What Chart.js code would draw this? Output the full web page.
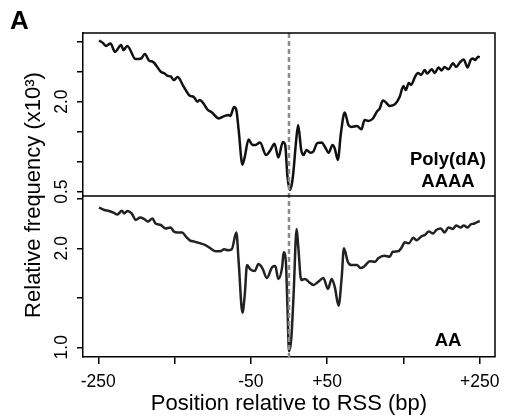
<!DOCTYPE html>
<html>
<head>
<meta charset="utf-8">
<script src="https://cdn.jsdelivr.net/npm/chart.js@4.4.1/dist/chart.umd.min.js"></script>
<style>
html,body{margin:0;padding:0;background:#fff;}
#wrap{position:relative;width:505px;height:419px;}
</style>
</head>
<body>
<div id="wrap"><canvas id="chart"></canvas></div>
<script>
// Poly(dA) / AAAA panel (top)
var topPos = [-249,-244,-240,-234,-228,-220,-217,-212,-201,-194,-189,-183,-179,-168,-163,-159,-155,-151,-146,-138,-130,-125,-120,-117,-112,-107,-101,-92,-85,-79,-77,-72,-69,-66,-61,-58,-53,-48,-44,-38,-30,-24,-19,-14,-8,-5,-2,1,4,6,9,12,16,19,23,28,32,37,43,47,52,57,60,64,68,73,78,82,89,95,99,104,110,115,119,123,126,132,139,145,150,153,157,160,165,169,173,178,181,187,191,196,200,204,209,215,219,225,229,234,238,241,244,248,250];
var topVal = [3.02,2.98,2.93,2.97,2.83,2.945,2.86,2.93,2.71,2.72,2.795,2.68,2.67,2.50,2.47,2.43,2.42,2.36,2.41,2.25,2.10,2.08,2.00,2.03,1.97,1.87,1.82,1.72,1.76,1.78,1.76,1.91,1.86,1.53,0.95,1.08,1.37,1.28,1.28,1.32,1.11,1.20,1.30,1.07,1.33,1.28,0.75,0.53,0.65,0.86,1.3,1.61,1.195,1.11,1.195,1.15,1.17,1.31,1.32,1.25,1.15,1.28,1.22,1.03,1.47,1.82,1.61,1.58,1.595,1.54,1.695,1.68,1.72,1.83,1.89,2.02,2.00,1.93,1.96,2.08,2.26,2.195,2.31,2.28,2.41,2.48,2.445,2.53,2.47,2.54,2.48,2.57,2.52,2.58,2.54,2.64,2.58,2.67,2.705,2.57,2.695,2.72,2.695,2.75,2.74];

// AA panel (bottom)
var botPos = [-249,-242,-236,-230,-225,-219,-216,-212,-206,-201,-195,-190,-185,-179,-175,-168,-162,-155,-151,-146,-140,-135,-130,-124,-116,-109,-103,-96,-90,-85,-80,-75,-69,-66,-61,-58,-55,-51,-45,-40,-35,-29,-22,-18,-14,-9,-7,-4,-2,0,3,6,10,12,16,21,26,32,38,45,51,56,60,65,69,72,77,82,89,94,99,106,113,117,125,132,136,143,147,152,157,163,167,173,179,183,189,193,199,204,209,215,219,225,229,234,238,243,248,250];
var botVal = [2.41,2.387,2.377,2.36,2.34,2.38,2.35,2.377,2.35,2.286,2.31,2.296,2.27,2.30,2.25,2.235,2.20,2.21,2.17,2.16,2.16,2.117,2.08,2.067,2.05,2.03,2.0,1.97,1.97,1.99,1.98,1.99,2.16,1.865,1.35,1.53,1.83,1.79,1.77,1.84,1.80,1.70,1.81,1.82,1.69,1.81,1.96,1.85,1.40,0.96,1.09,1.53,2.195,2.03,1.68,1.69,1.66,1.63,1.66,1.70,1.59,1.69,1.61,1.42,1.70,2.0,1.865,1.83,1.83,1.80,1.82,1.87,1.865,1.90,1.925,1.915,1.965,1.97,2.0,2.06,2.05,2.107,2.08,2.117,2.14,2.17,2.15,2.185,2.20,2.16,2.21,2.195,2.23,2.21,2.23,2.21,2.24,2.25,2.27,2.275];

// tick positions and labels
var xTicks = [-250,-150,-50,50,150,250];
var xTickLabels = ['-250','','-50','+50','','+250'];
var topTicks = [0.5,1.0,1.5,2.0,2.5,3.0];
var topTickLabels = ['0.5','','','2.0','',''];
var botTicks = [1.0,1.5,2.0,2.5];
var botTickLabels = ['1.0','','2.0',''];

var FONT = '"Liberation Sans", Arial, Helvetica, sans-serif';
Chart.defaults.font.family = FONT;
Chart.defaults.color = '#000';

function zip(xs, ys) {
	return xs.map(function(x, i){ return {x: x, y: ys[i]}; });
}

function labelFor(ticks, labels) {
	return function(v) {
		var i = ticks.indexOf(v);
		return i < 0 ? '' : labels[i];
	};
}

function yScale(min, max, ticks, labels, weight) {
	return {
		type: 'linear',
		position: 'left',
		stack: 'panels',
		stackWeight: weight,
		min: min,
		max: max,
		afterBuildTicks: function(s){ s.ticks = ticks.map(function(v){ return {value: v}; }); },
		afterFit: function(s){ s.width = 83; s.paddingTop = 0; s.paddingBottom = 0; },
		border: {display: true, color: '#000', width: 1.5},
		grid: {drawOnChartArea: false, drawTicks: true, tickLength: 6, color: '#000', lineWidth: 1.5},
		ticks: {
			minRotation: 90, maxRotation: 90, crossAlign: 'center', padding: 3,
			autoSkip: false, color: '#000', font: {size: 17.5},
			callback: labelFor(ticks, labels)
		}
	};
}

// frame, RSS line and panel labels
var decorations = {
	id: 'decorations',
	afterDatasetsDraw: function(chart) {
		var ctx = chart.ctx, a = chart.chartArea, x0 = Math.round(chart.scales.x.getPixelForValue(0));
		ctx.save();
		ctx.strokeStyle = '#8a8a8a';
		ctx.lineWidth = 2.5;
		ctx.setLineDash([5, 3]);
		ctx.beginPath();
		ctx.moveTo(x0, a.top);
		ctx.lineTo(x0, a.bottom + 2);
		ctx.stroke();
		ctx.restore();
	},
	afterDraw: function(chart) {
		var ctx = chart.ctx, a = chart.chartArea, yT = chart.scales.yTop;
		ctx.save();
		ctx.strokeStyle = '#000';
		ctx.lineWidth = 1.5;
		ctx.beginPath();
		ctx.moveTo(a.left, a.top); ctx.lineTo(a.right, a.top); ctx.lineTo(a.right, a.bottom);
		ctx.moveTo(a.left, yT.bottom); ctx.lineTo(a.right, yT.bottom);
		ctx.stroke();

		ctx.fillStyle = '#000';
		ctx.textAlign = 'center';
		ctx.textBaseline = 'middle';
		ctx.font = 'bold 18.5px ' + FONT;
		ctx.fillText('Poly(dA)', a.right - 47, yT.bottom - 36);
		ctx.fillText('AAAA', a.right - 47, yT.bottom - 14);
		ctx.fillText('AA', a.right - 47, a.bottom - 16);

		ctx.textAlign = 'left';
		ctx.textBaseline = 'alphabetic';
		ctx.font = 'bold 26px ' + FONT;
		ctx.fillText('A', 10, 29);

		ctx.translate(34, (a.top + a.bottom) / 2);
		ctx.rotate(-Math.PI / 2);
		ctx.textAlign = 'center';
		ctx.textBaseline = 'middle';
		ctx.font = '22px ' + FONT;
		ctx.fillText('Relative frequency (x10\u00B3)', 0, 0);
		ctx.restore();
	}
};

var chart = new Chart(document.getElementById('chart'), {
	type: 'line',
	data: {
		datasets: [
			{data: zip(topPos, topVal), yAxisID: 'yTop', borderColor: '#111', borderWidth: 2.5},
			{data: zip(botPos, botVal), yAxisID: 'yBot', borderColor: '#222', borderWidth: 2.5}
		]
	},
	options: {
		responsive: true,
		maintainAspectRatio: false,
		animation: false,
		devicePixelRatio: 1,
		layout: {padding: {top: 33, right: 10, left: 0, bottom: 0}},
		elements: {
			point: {radius: 0},
			line: {cubicInterpolationMode: 'monotone', fill: false}
		},
		plugins: {legend: {display: false}, tooltip: {enabled: false}},
		scales: {
			x: {
				type: 'linear',
				min: -270,
				max: 270,
				afterBuildTicks: function(s){ s.ticks = xTicks.map(function(v){ return {value: v}; }); },
				afterFit: function(s){ s.height = 62; s.paddingLeft = 0; s.paddingRight = 0; },
				border: {display: true, color: '#000', width: 1.5},
				grid: {drawOnChartArea: false, drawTicks: true, tickLength: 7, color: '#000', lineWidth: 1.5},
				ticks: {maxRotation: 0, autoSkip: false, padding: 8, font: {size: 17.5}, callback: labelFor(xTicks, xTickLabels)},
				title: {display: true, text: 'Position relative to RSS (bp)', font: {size: 22}, padding: {top: 0, bottom: 2}}
			},
			yBot: yScale(0.902, 2.528, botTicks, botTickLabels, 161),
			yTop: yScale(0.428, 3.145, topTicks, topTickLabels, 163)
		}
	},
	plugins: [decorations]
});
</script>
</body>
</html>
